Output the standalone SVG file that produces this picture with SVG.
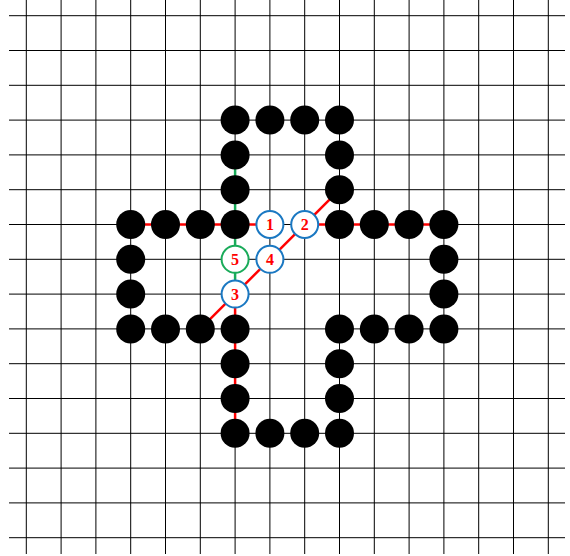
<svg xmlns="http://www.w3.org/2000/svg" width="570" height="556" viewBox="0 0 570 556">
<style>
.grid line{stroke:#000;stroke-width:1}
.stone{fill:#000}
.red{stroke:#ff0000;stroke-width:2.5;fill:none}
.green{stroke:#1aab5a;stroke-width:2.5;fill:none}
.mark{fill:#fff;stroke-width:2}
.blue{stroke:#1a78c2}
.gmark{stroke:#1aab5a}
.lbl{font-family:"Liberation Serif","DejaVu Serif",serif;font-weight:bold;font-size:16px;fill:#ff0000;text-anchor:middle;dominant-baseline:central}
</style>
<rect width="570" height="556" fill="#fff"/>
<g class="grid" id="grid">
<line x1="26.3" y1="0" x2="26.3" y2="554"/>
<line x1="61.1" y1="0" x2="61.1" y2="554"/>
<line x1="95.9" y1="0" x2="95.9" y2="554"/>
<line x1="130.7" y1="0" x2="130.7" y2="554"/>
<line x1="165.5" y1="0" x2="165.5" y2="554"/>
<line x1="200.3" y1="0" x2="200.3" y2="554"/>
<line x1="235.1" y1="0" x2="235.1" y2="554"/>
<line x1="269.9" y1="0" x2="269.9" y2="554"/>
<line x1="304.7" y1="0" x2="304.7" y2="554"/>
<line x1="339.5" y1="0" x2="339.5" y2="554"/>
<line x1="374.3" y1="0" x2="374.3" y2="554"/>
<line x1="409.1" y1="0" x2="409.1" y2="554"/>
<line x1="443.9" y1="0" x2="443.9" y2="554"/>
<line x1="478.7" y1="0" x2="478.7" y2="554"/>
<line x1="513.5" y1="0" x2="513.5" y2="554"/>
<line x1="548.3" y1="0" x2="548.3" y2="554"/>
<line x1="9" y1="15.7" x2="565" y2="15.7"/>
<line x1="9" y1="50.5" x2="565" y2="50.5"/>
<line x1="9" y1="85.3" x2="565" y2="85.3"/>
<line x1="9" y1="120.1" x2="565" y2="120.1"/>
<line x1="9" y1="154.9" x2="565" y2="154.9"/>
<line x1="9" y1="189.7" x2="565" y2="189.7"/>
<line x1="9" y1="224.5" x2="565" y2="224.5"/>
<line x1="9" y1="259.3" x2="565" y2="259.3"/>
<line x1="9" y1="294.1" x2="565" y2="294.1"/>
<line x1="9" y1="328.9" x2="565" y2="328.9"/>
<line x1="9" y1="363.7" x2="565" y2="363.7"/>
<line x1="9" y1="398.5" x2="565" y2="398.5"/>
<line x1="9" y1="433.3" x2="565" y2="433.3"/>
<line x1="9" y1="468.1" x2="565" y2="468.1"/>
<line x1="9" y1="502.9" x2="565" y2="502.9"/>
<line x1="9" y1="537.7" x2="565" y2="537.7"/>
</g>
<g id="connectors">
<line class="red" x1="130.7" y1="224.5" x2="269.9" y2="224.5"/>
<line class="red" x1="304.7" y1="224.5" x2="443.9" y2="224.5"/>
<line class="green" x1="235.1" y1="154.9" x2="235.1" y2="294.1"/>
<line class="red" x1="235.1" y1="294.1" x2="235.1" y2="433.3"/>
<line class="red" x1="200.3" y1="328.9" x2="339.5" y2="189.7"/>
</g>
<g id="stones">
<circle class="stone" cx="235.1" cy="120.1" r="14.5"/>
<circle class="stone" cx="269.9" cy="120.1" r="14.5"/>
<circle class="stone" cx="304.7" cy="120.1" r="14.5"/>
<circle class="stone" cx="339.5" cy="120.1" r="14.5"/>
<circle class="stone" cx="235.1" cy="154.9" r="14.5"/>
<circle class="stone" cx="339.5" cy="154.9" r="14.5"/>
<circle class="stone" cx="235.1" cy="189.7" r="14.5"/>
<circle class="stone" cx="339.5" cy="189.7" r="14.5"/>
<circle class="stone" cx="130.7" cy="224.5" r="14.5"/>
<circle class="stone" cx="165.5" cy="224.5" r="14.5"/>
<circle class="stone" cx="200.3" cy="224.5" r="14.5"/>
<circle class="stone" cx="235.1" cy="224.5" r="14.5"/>
<circle class="stone" cx="339.5" cy="224.5" r="14.5"/>
<circle class="stone" cx="374.3" cy="224.5" r="14.5"/>
<circle class="stone" cx="409.1" cy="224.5" r="14.5"/>
<circle class="stone" cx="443.9" cy="224.5" r="14.5"/>
<circle class="stone" cx="130.7" cy="259.3" r="14.5"/>
<circle class="stone" cx="443.9" cy="259.3" r="14.5"/>
<circle class="stone" cx="130.7" cy="294.1" r="14.5"/>
<circle class="stone" cx="443.9" cy="294.1" r="14.5"/>
<circle class="stone" cx="130.7" cy="328.9" r="14.5"/>
<circle class="stone" cx="165.5" cy="328.9" r="14.5"/>
<circle class="stone" cx="200.3" cy="328.9" r="14.5"/>
<circle class="stone" cx="235.1" cy="328.9" r="14.5"/>
<circle class="stone" cx="339.5" cy="328.9" r="14.5"/>
<circle class="stone" cx="374.3" cy="328.9" r="14.5"/>
<circle class="stone" cx="409.1" cy="328.9" r="14.5"/>
<circle class="stone" cx="443.9" cy="328.9" r="14.5"/>
<circle class="stone" cx="235.1" cy="363.7" r="14.5"/>
<circle class="stone" cx="339.5" cy="363.7" r="14.5"/>
<circle class="stone" cx="235.1" cy="398.5" r="14.5"/>
<circle class="stone" cx="339.5" cy="398.5" r="14.5"/>
<circle class="stone" cx="235.1" cy="433.3" r="14.5"/>
<circle class="stone" cx="269.9" cy="433.3" r="14.5"/>
<circle class="stone" cx="304.7" cy="433.3" r="14.5"/>
<circle class="stone" cx="339.5" cy="433.3" r="14.5"/>
</g>
<g id="mark1"><circle class="mark blue" cx="269.9" cy="224.5" r="13.5"/><text class="lbl" x="269.9" y="224.5">1</text></g>
<g id="mark2"><circle class="mark blue" cx="304.7" cy="224.5" r="13.5"/><text class="lbl" x="304.7" y="224.5">2</text></g>
<g id="mark3"><circle class="mark blue" cx="235.1" cy="294.1" r="13.5"/><text class="lbl" x="235.1" y="294.1">3</text></g>
<g id="mark4"><circle class="mark blue" cx="269.9" cy="259.3" r="13.5"/><text class="lbl" x="269.9" y="259.3">4</text></g>
<g id="mark5"><circle class="mark gmark" cx="235.1" cy="259.3" r="13.5"/><text class="lbl" x="235.1" y="259.3">5</text></g>
</svg>
